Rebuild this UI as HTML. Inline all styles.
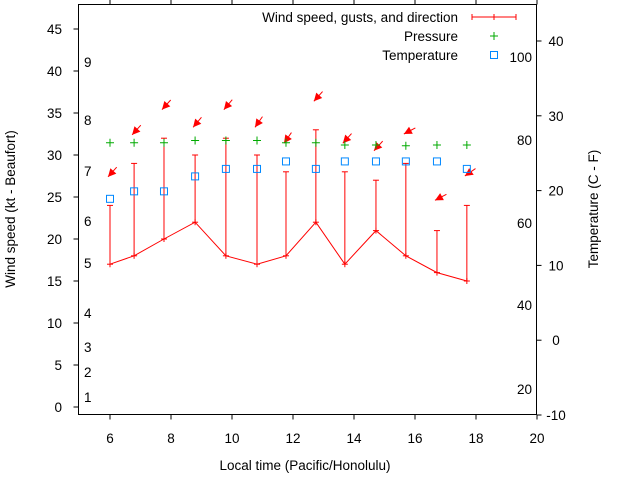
<!DOCTYPE html>
<html><head><meta charset="utf-8"><style>
html,body{margin:0;padding:0;background:#fff;}
svg{display:block;font-family:"Liberation Sans",sans-serif;}
</style></head><body>
<svg id="chart" width="640" height="480">
<g id="axes"></g>
<g id="marks"></g>
<g id="legend"></g>
</svg>
<script>
const times=[6,6.79,7.77,8.79,9.8,10.82,11.77,12.75,13.7,14.72,15.7,16.72,17.7];
const windSpeed=[17,18,20,22,18,17,18,22,17,21,18,16,15];
const gusts=[24,29,32,30,32,30,28,33,28,27,29,21,24];
const arrowY=[27.4,32.4,35.4,33.3,35.4,33.3,31.4,36.4,31.4,30.5,32.5,24.6,27.5];
const windDir=[42,42,42,40,40,35,35,42,42,42,62,62,55];
const temperature=[18.9,19.9,19.9,21.9,22.9,22.9,23.9,22.9,23.9,23.9,23.9,23.9,22.9];
const pressure=[26.4,26.4,26.4,26.7,26.7,26.7,26.4,26.4,26.1,26.1,26.0,26.1,26.1];
const xTicks=[6,8,10,12,14,16,18,20];
const yTicks=[0,5,10,15,20,25,30,35,40,45];
const y2Ticks=[-10,0,10,20,30,40];
const beaufort=[[1,397],[2,372],[3,347],[4,313],[5,263],[6,221],[7,171],[8,120],[9,62]];
const fahr=[[20,389],[40,305],[60,223],[80,140],[100,57]];

const L=78.5,R=536.5,T=4.5,B=414.5;
const FS=13.5;
const xs=v=>79.5+(v-5)*30.5;
const ys=v=>407-v*8.4;
const yt=v=>415-(v+10)*7.48;
const NS='http://www.w3.org/2000/svg';
function mk(tag,attrs,parent,text){const e=document.createElementNS(NS,tag);for(const k in attrs)e.setAttribute(k,attrs[k]);if(text!==undefined)e.textContent=text;parent.appendChild(e);return e;}
const ax=document.getElementById('axes'),mg=document.getElementById('marks'),lg=document.getElementById('legend');

let fr=mk('rect',{x:L,y:T,width:R-L,height:B-T,fill:'none',stroke:'#000','stroke-width':1},ax);


xTicks.forEach(v=>{const x=xs(v);
 let t=mk('line',{x1:x,y1:B,x2:x,y2:B+5,stroke:'#000'},ax);
 
 
 mk('line',{x1:x,y1:T,x2:x,y2:T-5,stroke:'#000'},ax);
 let l=mk('text',{x:x,y:443,'text-anchor':'middle','font-size':FS,fill:'#000'},ax,v);
 
 });
yTicks.forEach(v=>{const y=ys(v);
 mk('line',{x1:L,y1:y,x2:L-5,y2:y,stroke:'#000'},ax);
 let l=mk('text',{x:62,y:y+5,'text-anchor':'end','font-size':FS,fill:'#000'},ax,v);
 
 });
y2Ticks.forEach(v=>{const y=yt(v);
 mk('line',{x1:R,y1:y,x2:R+5,y2:y,stroke:'#000'},ax);
 let l=mk('text',{x:556,y:y+5,'text-anchor':'middle','font-size':FS,fill:'#000'},ax,v);
 
 });
beaufort.forEach(b=>{let l=mk('text',{x:84,y:b[1]+5,'font-size':FS,fill:'#000'},ax,b[0]);
 
 });
fahr.forEach(f=>{let l=mk('text',{x:532,y:f[1]+5,'text-anchor':'end','font-size':FS,fill:'#000'},ax,f[0]);
 
 });
let xt=mk('text',{x:305,y:470,'text-anchor':'middle','font-size':FS},ax,'Local time (Pacific/Honolulu)');


let yl=mk('text',{x:0,y:0,'text-anchor':'middle','font-size':FS,transform:'translate(15,209) rotate(-90)'},ax,'Wind speed (kt - Beaufort)');


let yr=mk('text',{x:0,y:0,'text-anchor':'middle','font-size':FS,transform:'translate(598,209) rotate(-90)'},ax,'Temperature (C - F)');



let pts=times.map((t,i)=>xs(t)+','+ys(windSpeed[i])).join(' ');
let pl=mk('polyline',{points:pts,fill:'none',stroke:'#f00','stroke-width':1},mg);


times.forEach((t,i)=>{const x=xs(t),y1=ys(windSpeed[i]),y2=ys(gusts[i]);
 let g=mk('line',{x1:x,y1:y1,x2:x,y2:y2,stroke:'#f00'},mg);
 
 
 mk('line',{x1:x-3,y1:y2,x2:x+3,y2:y2,stroke:'#f00'},mg);
 mk('line',{x1:x-3,y1:y1,x2:x+3,y2:y1,stroke:'#f00'},mg);
 mk('line',{x1:x,y1:y1-3,x2:x,y2:y1+3,stroke:'#f00'},mg);
 const a=windDir[i]*Math.PI/180, tx=x-2, ty=ys(arrowY[i]);
 const dx=Math.sin(a),dy=-Math.cos(a), len=13;
 let ar=mk('line',{x1:tx+dx*len,y1:ty+dy*len,x2:tx,y2:ty,stroke:'#f00'},mg);
 
 
 const px=-dy,py=dx,h=8,w=4;
 mk('polygon',{points:`${tx},${ty} ${tx+dx*h+px*w},${ty+dy*h+py*w} ${tx+dx*h-px*w},${ty+dy*h-py*w}`,fill:'#f00'},mg);
 const py2=yt(pressure[i]);
 let p=mk('path',{d:`M${x-4},${py2}H${x+4}M${x},${py2-4}V${py2+4}`,stroke:'#0a0','stroke-width':1},mg);
 
 
 const ty2=yt(temperature[i]);
 let s=mk('rect',{x:x-3.5,y:ty2-3.5,width:7,height:7,fill:'none',stroke:'#08f','stroke-width':1},mg);
 
 
});

const lt=[['Wind speed, gusts, and direction',17],['Pressure',36],['Temperature',55]];
lt.forEach(r=>{let e=mk('text',{x:458,y:r[1]+5,'text-anchor':'end','font-size':FS},lg,r[0]);
 
 });
mk('path',{d:'M472,17H516M472,14V20M494,14V20M516,14V20',stroke:'#f00'},lg);
mk('path',{d:'M490,36H498M494,32V40',stroke:'#0a0'},lg);
mk('rect',{x:490.5,y:51.5,width:7,height:7,fill:'none',stroke:'#08f'},lg);
</script>
</body></html>
